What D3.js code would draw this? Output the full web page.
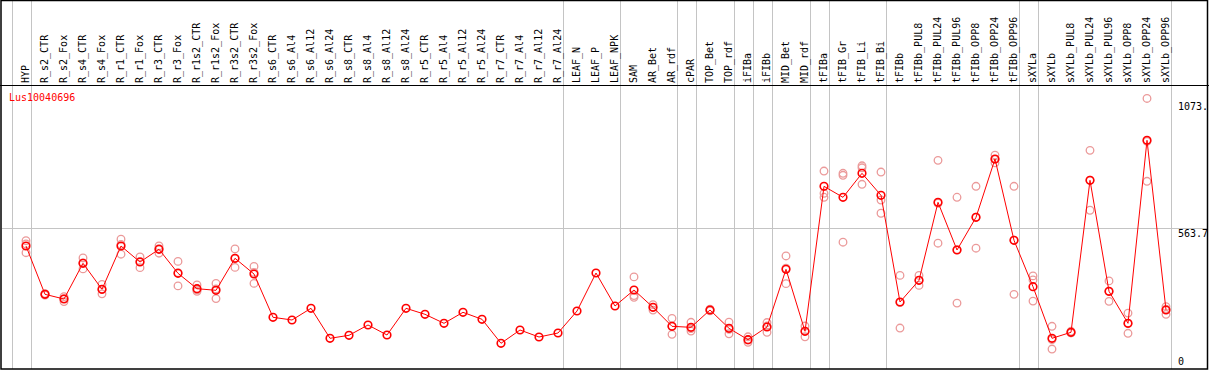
<!DOCTYPE html>
<html>
<head>
<meta charset="utf-8">
<script src="https://cdn.jsdelivr.net/npm/d3@7"></script>
<style>
  body { margin: 0; background: #fff; overflow: hidden; }
  svg { display: block; }
  .lbl { font-family: "DejaVu Sans Mono", monospace; font-size: 10px; fill: #000; }
</style>
</head>
<body>
<div id="chart"></div>
<script>
// sample names (one column each)
const samples = ["HYP", "R_s2_CTR", "R_s2_Fox", "R_s4_CTR", "R_s4_Fox", "R_r1_CTR", "R_r1_Fox",
  "R_r3_CTR", "R_r3_Fox", "R_r1s2_CTR", "R_r1s2_Fox", "R_r3s2_CTR", "R_r3s2_Fox",
  "R_s6_CTR", "R_s6_Al4", "R_s6_Al12", "R_s6_Al24", "R_s8_CTR", "R_s8_Al4", "R_s8_Al12", "R_s8_Al24",
  "R_r5_CTR", "R_r5_Al4", "R_r5_Al12", "R_r5_Al24", "R_r7_CTR", "R_r7_Al4", "R_r7_Al12", "R_r7_Al24",
  "LEAF_N", "LEAF_P", "LEAF_NPK", "SAM", "AR_Bet", "AR_rdf", "cPAR", "TOP_Bet", "TOP_rdf",
  "iFIBa", "iFIBb", "MID_Bet", "MID_rdf", "tFIBa", "tFIB_Gr", "tFIB_Li", "tFIB_Bi",
  "tFIBb", "tFIBb_PUL8", "tFIBb_PUL24", "tFIBb_PUL96", "tFIBb_OPP8", "tFIBb_OPP24", "tFIBb_OPP96",
  "sXYLa", "sXYLb", "sXYLb_PUL8", "sXYLb_PUL24", "sXYLb_PUL96", "sXYLb_OPP8", "sXYLb_OPP24", "sXYLb_OPP96"];

// mean expression per sample
const means = [492.7, 299.2, 280.4, 423.4, 319.3, 492.7, 428.6, 479.5, 383.4, 321.7, 315.3, 443.5, 380.6,
  207.1, 196.3, 243.2, 123.0, 135.0, 176.3, 136.2, 243.2, 219.1, 183.1, 227.1, 199.1, 103.0, 156.2, 128.2, 144.2,
  232.3, 384.6, 252.4, 316.5, 247.2, 171.0, 167.0, 236.4, 163.0, 117.4, 168.3, 399.4, 151.0,
  731.9, 687.8, 784.0, 695.8, 268.4, 355.3, 667.8, 476.7, 607.7, 841.3, 515.6,
  329.7, 123.0, 147.0, 755.9, 311.3, 183.1, 916.2, 236.4];

// replicate values per sample
const replicates = [
  [514, 501, 466], [296, 300, 302], [290, 282, 270], [445, 425, 401], [339, 318, 301],
  [520, 499, 460], [449, 431, 406], [493, 482, 464], [431, 386, 333], [337, 317, 311],
  [343, 321, 282], [481, 442, 407], [411, 387, 343],
  [], [], [], [], [], [], [], [], [], [], [], [], [], [], [], [], [], [], [],
  [369, 294, 287], [258, 247, 236], [203, 171, 139], [187, 162, 152], [240, 236, 233],
  [188, 159, 141], [129, 116, 107], [186, 172, 147], [453, 404, 342], [172, 151, 129],
  [793, 704, 688], [784, 776, 508], [814, 806, 740], [789, 677, 624],
  [375, 266, 164], [375, 355, 335], [836, 664, 504], [688, 478, 264], [732, 608, 484],
  [857, 840, 826], [732, 516, 299],
  [373, 357, 272], [171, 118, 80], [151, 145, 145], [876, 756, 636], [353, 310, 271],
  [224, 182, 143], [1084, 912, 752], [250, 240, 219]
];

// group separators drawn after these samples
const separators = ["HYP", "R_r7_Al24", "LEAF_NPK", "AR_rdf", "cPAR", "TOP_rdf", "iFIBa", "iFIBb",
  "MID_rdf", "tFIBa", "tFIB_Bi", "tFIBb_OPP96", "sXYLa", "sXYLb_OPP96"];

const yTicks = [0, 563.7, 1073.4];
const yTickLabels = ["0", "563.7", "1073."];
const geneName = "Lus10040696";

const W = 1209, H = 370;
const headerY = 85, bottomY = 369;

const x = d3.scalePoint().domain(samples).range([26, 1166]);
const step = x.step();
const y = d3.scaleLinear().domain([0, 1127.4]).range([bottomY, 87.6]);

const svg = d3.select("#chart").append("svg")
  .attr("width", W)
  .attr("height", H);

// separators (full height)
const sepX = [x(samples[0]) - step + 4.5].concat(separators.map(s => x(s) + 4.5));
svg.selectAll(".sep")
  .data(sepX)
  .enter().append("line")
  .attr("class", "sep")
  .attr("x1", d => Math.round(d) + 0.5)
  .attr("x2", d => Math.round(d) + 0.5)
  .attr("y1", 0)
  .attr("y2", bottomY)
  .attr("stroke", "#c4c4c4")
  .attr("stroke-width", 1);

// mid gridline
svg.append("line")
  .attr("x1", 2).attr("x2", W - 1)
  .attr("y1", Math.round(y(563.7)) + 0.5).attr("y2", Math.round(y(563.7)) + 0.5)
  .attr("stroke", "#c4c4c4");

// frame
svg.append("rect")
  .attr("x", 1).attr("y", 0.5)
  .attr("width", W - 2.5).attr("height", bottomY - 0.5)
  .attr("fill", "none").attr("stroke", "#000").attr("stroke-width", 1.5);
svg.append("line")
  .attr("x1", 0).attr("x2", W)
  .attr("y1", headerY + 0.5).attr("y2", headerY + 0.5)
  .attr("stroke", "#000");

// column labels, rotated
svg.selectAll(".col")
  .data(samples)
  .enter().append("text")
  .attr("class", "lbl col")
  .attr("transform", d => `translate(${x(d) + 3},83) rotate(-90)`)
  .text(d => d);

// y tick labels on the right
svg.selectAll(".ytick")
  .data(yTicks)
  .enter().append("text")
  .attr("class", "lbl ytick")
  .attr("x", 1178)
  .attr("y", (d, i) => i === 0 ? y(d) - 4 : y(d) + 9)
  .text((d, i) => yTickLabels[i]);

svg.append("text")
  .attr("class", "lbl")
  .attr("x", 9)
  .attr("y", 101)
  .attr("fill", "#ff0000")
  .style("fill", "#ff0000")
  .text(geneName);

// replicates
const reps = [];
replicates.forEach((r, i) => r.forEach(v => reps.push({ s: samples[i], v: v })));
svg.selectAll(".rep")
  .data(reps)
  .enter().append("circle")
  .attr("class", "rep")
  .attr("cx", d => x(d.s))
  .attr("cy", d => y(d.v))
  .attr("r", 3.8)
  .attr("fill", "none")
  .attr("stroke", "#eb9a9a")
  .attr("stroke-width", 1.3);

// mean line
const line = d3.line()
  .x((d, i) => x(samples[i]))
  .y(d => y(d));
svg.append("path")
  .datum(means)
  .attr("d", line)
  .attr("fill", "none")
  .attr("stroke", "#ff0000")
  .attr("stroke-width", 1);

svg.selectAll(".mean")
  .data(means)
  .enter().append("circle")
  .attr("class", "mean")
  .attr("cx", (d, i) => x(samples[i]))
  .attr("cy", d => y(d))
  .attr("r", 3.8)
  .attr("fill", "none")
  .attr("stroke", "#ff0000")
  .attr("stroke-width", 1.6);
</script>
</body>
</html>
